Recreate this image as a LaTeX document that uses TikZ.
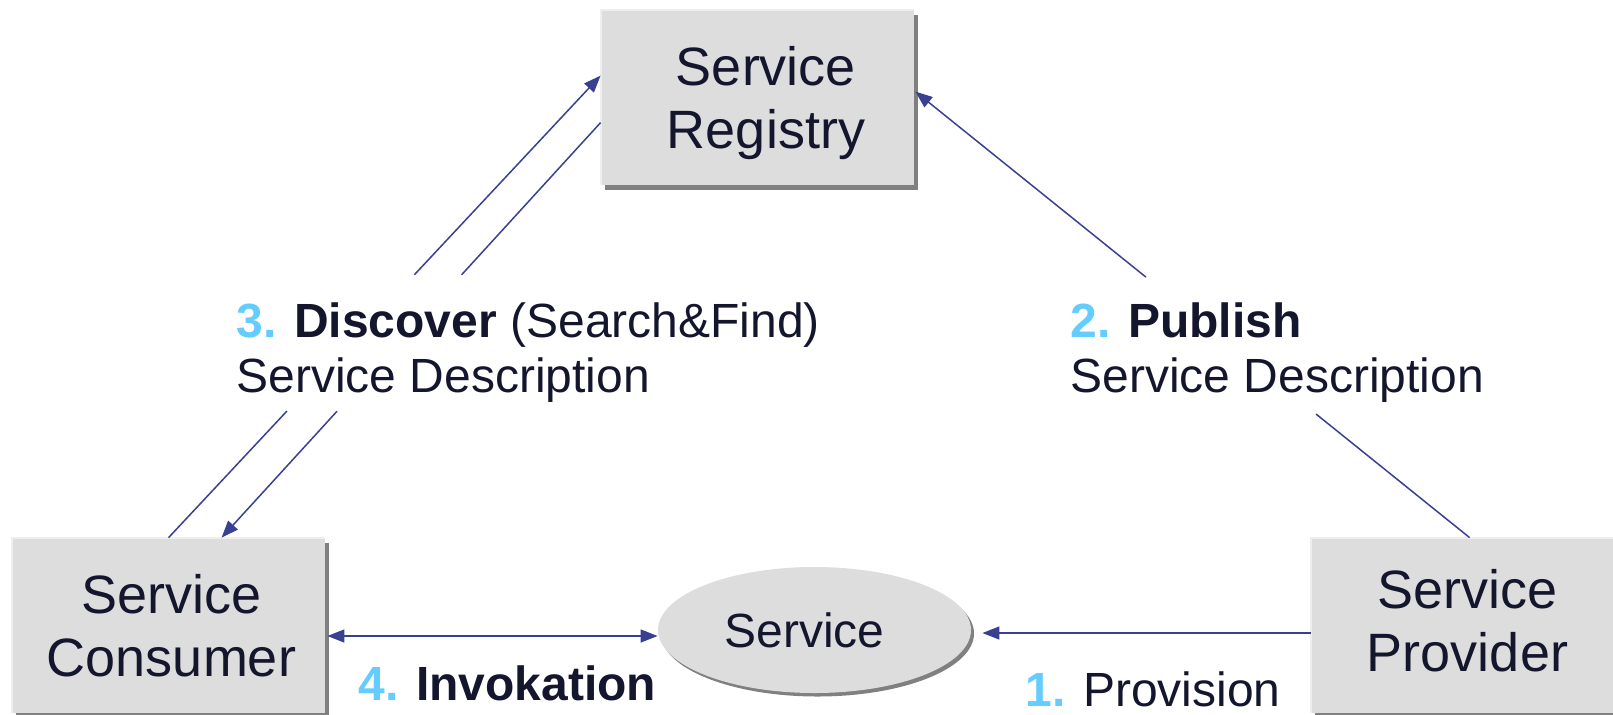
\documentclass[tikz,border=0pt]{standalone}
\usepackage{fontspec}
\setmainfont{Liberation Sans}
\usetikzlibrary{arrows.meta,shapes.geometric,shadows,calc}

\definecolor{ink}{RGB}{20,22,45}
\definecolor{stepblue}{RGB}{100,204,255}
\definecolor{wire}{RGB}{58,64,145}
\definecolor{boxgray}{RGB}{221,221,221}
\definecolor{shadegray}{RGB}{128,128,128}
\definecolor{edgelight}{RGB}{238,238,238}

\newcommand\stepnum[1]{\textcolor{stepblue}{\textbf{#1}}}

\tikzset{
  actor/.style={rectangle, fill=boxgray, minimum width=156.5pt, minimum height=87.5pt,
    inner sep=0pt, align=center, text=ink, font=\fontsize{27}{31.5}\selectfont,
    drop shadow={shadow xshift=1.75pt, shadow yshift=-2.25pt, fill=shadegray, opacity=1}},
  svcshape/.style={ellipse, fill=boxgray, minimum width=156.5pt, minimum height=63pt,
    inner sep=0pt, text=ink, font=\fontsize{24}{27.5}\selectfont,
    drop shadow={shadow xshift=1.5pt, shadow yshift=-1.75pt, fill=shadegray, opacity=1}},
  steplabel/.style={inner sep=0pt, align=left, text=ink, font=\fontsize{24}{27.5}\selectfont},
  wireline/.style={draw=wire, line width=0.75pt},
  rim/.style={draw=edgelight, line width=1pt},
  >={Triangle[length=8.5pt,width=6.5pt]}
}

\begin{document}
\begin{tikzpicture}[x=0.5pt,y=-0.5pt]
\useasboundingbox (0,0) rectangle (1613,714);

% the three parties and the service
\node[actor] (reg)  at (757.5,97.5)
  {\hspace*{8.5pt}\rule{0pt}{24.7pt}Service\\\hspace*{8.5pt}Registry};
\node[actor] (cons) at (168.5,625.5)
  {\hspace*{3pt}Service\\\hspace*{3pt}Consumer};
\node[actor] (prov) at (1467.5,625.5)
  {Service\\Provider\rule[-5pt]{0pt}{5pt}};
\node[svcshape] (svc) at (814.5,630) {\hspace*{-10pt}Service};

% light top/left rims of the boxes
\draw[rim] (reg.south west) |- (reg.north east);
\draw[rim] (cons.south west) |- (cons.north east);
\draw[rim] (prov.south west) |- (prov.north east);

% step labels (base anchor sits on the last line)
\node[steplabel, anchor=base west] (discover) at (236,392)
  {\stepnum{3.} \textbf{Discover} (Search\&Find)\\Service Description};
\node[steplabel, anchor=base west] (publish) at (1070,392)
  {\stepnum{2.} \textbf{Publish}\\Service Description};
\node[steplabel, anchor=base west] (invoke) at (358,700)
  {\stepnum{4.} \textbf{Invokation}};
\node[steplabel, anchor=base west] (provision) at (1025,706)
  {\stepnum{1.} Provision};

% connector end points on the node borders
\coordinate (askA) at ([xshift=78.5pt]cons.north west);
\coordinate (askB) at ([yshift=-33pt]reg.north west);
\coordinate (ansA) at ([yshift=-56.5pt]reg.north west);
\coordinate (ansB) at ([xshift=105pt]cons.north west);
\coordinate (pubA) at ([xshift=79.5pt]prov.north west);
\coordinate (pubB) at ([xshift=0.5pt,yshift=-41pt]reg.north east);

% 3. discover: request and answer, broken around the label
\draw[wireline,->] (askA) -- ($(askA)!0.274!(askB)$) ($(askA)!0.569!(askB)$) -- (askB);
\draw[wireline,->] (ansA) -- ($(ansA)!0.367!(ansB)$) ($(ansA)!0.6955!(ansB)$) -- (ansB);

% 2. publish
\draw[wireline,->] (pubA) -- ($(pubA)!0.277!(pubB)$) ($(pubA)!0.584!(pubB)$) -- (pubB);

% 1. provision
\draw[wireline,->,shorten >=5.5pt] ([yshift=-3.75pt]prov.west) -- ([yshift=-3.75pt]prov.west -| svc.east);

% 4. invocation
\draw[wireline,<->] ([xshift=1pt,yshift=-5.25pt]cons.east) -- ([yshift=-5.25pt]cons.east -| svc.west);
\end{tikzpicture}
\end{document}
